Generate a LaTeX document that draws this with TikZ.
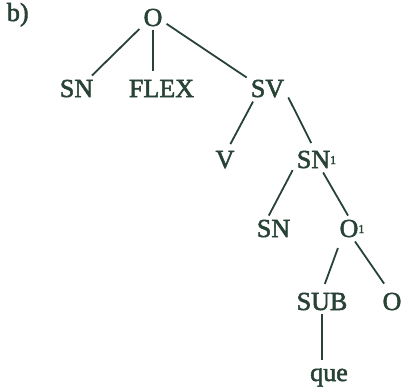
\documentclass[tikz,border=0pt]{standalone}
\usepackage{fontspec}
\setmainfont{Liberation Serif}[FakeBold=2]
\usepackage{tikz}
\definecolor{ink}{RGB}{40,66,54}
\newcommand{\indice}{\raisebox{4pt}{\fontsize{12}{12}\selectfont 1}}
\tikzset{
    mot/.style={anchor=base,inner sep=4pt,text=ink,font=\fontsize{26}{30}\selectfont},
    branche/.style={draw=ink,line width=1.8pt},
  }
\begin{document}
\begin{tikzpicture}[x=1pt,y=-1pt]
                  %cadre de l'image
                  \useasboundingbox (0,0) rectangle (402,391);
                  %noeuds (position = ligne de base)
                                    \node[mot] (b) at (17.8,21) {b)};
                                    \node[mot] (O) at (153,26) {O};
                                    \node[mot] (SN) at (76.5,97) {SN};
                                    \node[mot] (FLEX) at (161.5,97) {FLEX};
                                    \node[mot] (SV) at (267.5,97) {SV};
                                    \node[mot] (V) at (225,168) {V};
                                    \node[mot] (SNa) at (316.5,168) {SN\indice};
                                    \node[mot] (SNb) at (273.5,237) {SN};
                                    \node[mot] (Oa) at (352,237) {O\indice};
                                    \node[mot] (SUB) at (322,310) {SUB};
                                    \node[mot] (Ob) at (392,310) {O};
                                    \node[mot] (que) at (329,381) {que};
                  %branches
                                    \draw[branche] (O.220) -- (SN.40);
                                    \draw[branche,shorten >=5pt] (O.south) -- (O.south |- FLEX.north);
                                    \draw[branche] (O.335) -- (SV.152);
                                    \draw[branche,shorten >=3pt] (SV.222) -- (V.73);
                                    \draw[branche,shorten >=4pt] (SV.337) -- (SNa.105);
                                    \draw[branche] (SNa.204) -- (SNb.110);
                                    \draw[branche] (SNa.297) -- (Oa.107);
                                    \draw[branche,shorten <=7pt,shorten >=5pt] (Oa.228) -- (SUB.85);
                                    \draw[branche,shorten >=6pt] (Oa.283) -- (Ob.109);
                                    \draw[branche,shorten >=4.5pt] (SUB.south) -- (SUB.south |- que.north);
				  \end{tikzpicture}
\end{document}
